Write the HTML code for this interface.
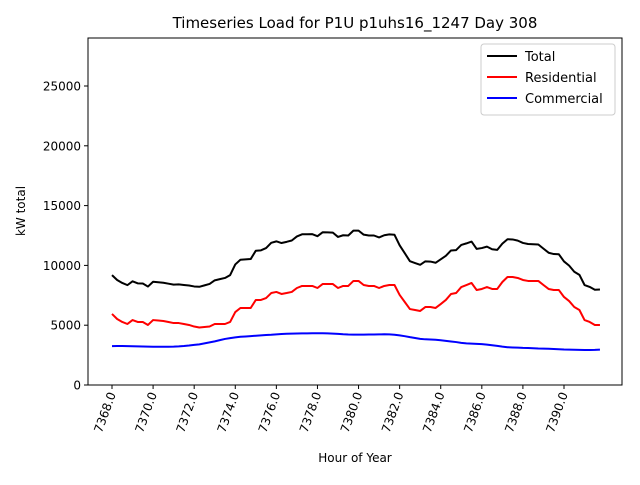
<!DOCTYPE html>
<html><head><meta charset="utf-8"><style>
body{margin:0;background:#fff;}
svg text{font-family:"DejaVu Sans","Liberation Sans",sans-serif;}
</style></head><body>
<svg id="chart" width="640" height="480" xmlns="http://www.w3.org/2000/svg">
<rect width="640" height="480" fill="#fff"/>
<text x="355" y="28" text-anchor="middle" font-size="15">Timeseries Load for P1U p1uhs16_1247  Day 308</text>
<g id="plot"></g>
<rect x="88" y="38" width="534" height="347" fill="none" stroke="#000" stroke-width="1"/>
<text x="355" y="462" text-anchor="middle" font-size="12">Hour of Year</text>
<text transform="translate(25,211) rotate(-90)" text-anchor="middle" font-size="12">kW total</text>
<g>
<rect x="481" y="44" width="134" height="71" fill="#fff" stroke="#ccc" rx="3"/>
<line x1="487" y1="56" x2="517" y2="56" stroke="#000" stroke-width="2"/>
<text x="525" y="61" font-size="13">Total</text>
<line x1="487" y1="77" x2="517" y2="77" stroke="red" stroke-width="2"/>
<text x="525" y="82" font-size="13">Residential</text>
<line x1="487" y1="98" x2="517" y2="98" stroke="blue" stroke-width="2"/>
<text x="525" y="103" font-size="13">Commercial</text>
</g>
</svg>
<script>
const startHour = 7368;
const stepHours = 0.25;
const xTicks = [7368,7370,7372,7374,7376,7378,7380,7382,7384,7386,7388,7390];
const yTicks = [0,5000,10000,15000,20000,25000];
const totalLoad = [9190,8780,8530,8350,8670,8500,8490,8230,8630,8590,8550,8470,8390,8410,8360,8320,8240,8210,8330,8450,8750,8850,8950,9190,10080,10470,10500,10530,11230,11260,11450,11890,12010,11870,11970,12080,12420,12600,12600,12610,12440,12770,12760,12740,12380,12520,12500,12910,12910,12570,12500,12500,12340,12520,12590,12560,11680,11020,10350,10200,10050,10340,10320,10220,10510,10800,11250,11280,11710,11840,11990,11380,11450,11570,11350,11300,11820,12190,12170,12070,11880,11790,11770,11750,11400,11060,10950,10930,10330,9980,9470,9210,8360,8200,7960,7980];
const residentialLoad = [5940,5520,5270,5100,5430,5270,5270,5020,5430,5390,5350,5270,5180,5180,5100,5020,4890,4810,4850,4890,5100,5100,5100,5270,6100,6440,6440,6440,7110,7110,7270,7690,7780,7610,7690,7780,8110,8280,8280,8280,8110,8440,8440,8440,8110,8280,8280,8700,8700,8360,8280,8280,8110,8280,8360,8360,7530,6940,6350,6270,6190,6520,6520,6440,6770,7110,7610,7690,8190,8360,8530,7940,8030,8190,8030,8030,8610,9030,9030,8950,8780,8700,8700,8700,8360,8030,7940,7940,7360,7020,6520,6270,5430,5270,5020,5020];
const commercialLoad = [3250,3260,3260,3250,3240,3230,3220,3210,3200,3200,3200,3200,3210,3230,3260,3300,3350,3400,3480,3560,3650,3750,3850,3920,3980,4030,4060,4090,4120,4150,4180,4200,4230,4260,4280,4300,4310,4320,4320,4330,4330,4330,4320,4300,4270,4240,4220,4210,4210,4210,4220,4220,4230,4240,4230,4200,4150,4080,4000,3930,3860,3820,3800,3780,3740,3690,3640,3590,3520,3480,3460,3440,3420,3380,3320,3270,3210,3160,3140,3120,3100,3090,3070,3050,3040,3030,3010,2990,2970,2960,2950,2940,2930,2930,2940,2960];

const NS="http://www.w3.org/2000/svg";
const X0=88,X1=622,Y0=385,Y1=38;
function xScale(h){return 112+(h-7368)*(564-112)/22;}
function yScale(v){return 385-v*(385-86)/25000;}
const g=document.getElementById('plot');
function mk(t,a){const e=document.createElementNS(NS,t);for(const k in a)e.setAttribute(k,a[k]);g.appendChild(e);return e;}
yTicks.forEach(v=>{
  const y=yScale(v);
  const l=mk('line',{x1:X0-4,x2:X0,y1:y,y2:y,stroke:'#000'});
  
  
  const t=mk('text',{x:X0-7,y:y+4.5,'text-anchor':'end','font-size':'12'});
  t.textContent=v;
  
  
});
xTicks.forEach(h=>{
  const x=xScale(h);
  const l=mk('line',{x1:x,x2:x,y1:Y0,y2:Y0+4,stroke:'#000'});
  
  
  const t=mk('text',{transform:`translate(${x+4},${Y0+9}) rotate(-70)`,'text-anchor':'end','font-size':'12'});
  t.textContent=h.toFixed(1);
  
  
});
function series(arr,color,name){
  const pts=arr.map((v,i)=>xScale(startHour+i*stepHours).toFixed(2)+','+yScale(v).toFixed(2)).join(' ');
  const p=mk('polyline',{points:pts,fill:'none',stroke:color,'stroke-width':'2','stroke-linejoin':'round'});
  
  
}
series(totalLoad,'#000','total-line');
series(residentialLoad,'red','residential-line');
series(commercialLoad,'blue','commercial-line');
</script>
</body></html>
